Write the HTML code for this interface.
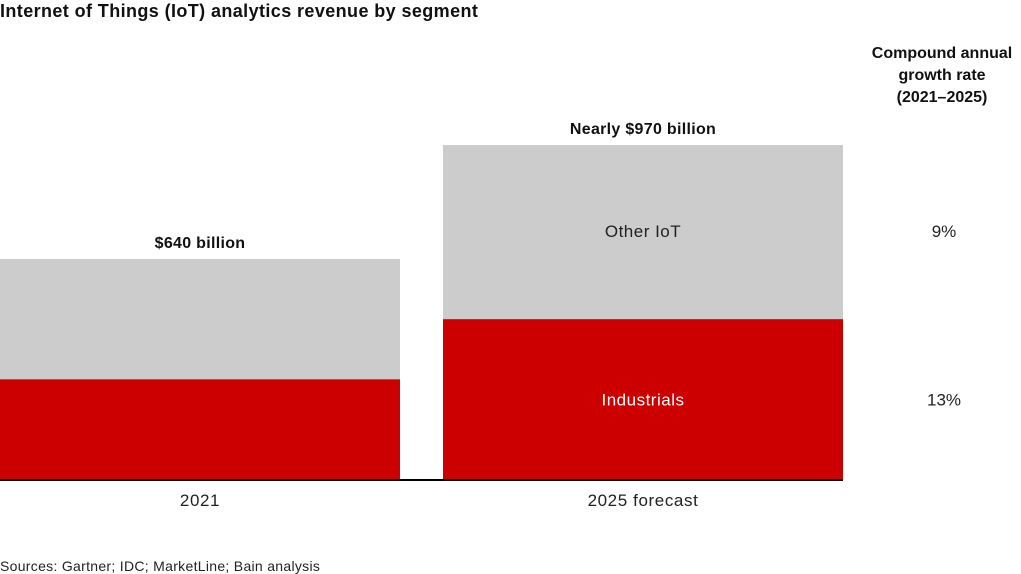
<!DOCTYPE html>
<html><head><meta charset="utf-8"><style>
html,body{margin:0;padding:0;background:#fff;width:1021px;height:574px;overflow:hidden;font-family:"Liberation Sans",sans-serif}
svg text{font-family:"Liberation Sans",sans-serif}
</style></head><body>
<svg id="chart" width="1021" height="574">
<text x="0" y="17" font-size="18" font-weight="bold" letter-spacing="0.4" fill="#111">Internet of Things (IoT) analytics revenue by segment</text>
<g font-size="16" font-weight="bold" fill="#111" text-anchor="middle">
<text x="942" y="58">Compound annual</text>
<text x="942" y="80">growth rate</text>
<text x="942" y="102">(2021–2025)</text>
</g>
<g id="bars"></g>
<line x1="0" y1="480" x2="843" y2="480" stroke="#000" stroke-width="2"/>
<text x="0" y="571" font-size="14" letter-spacing="0.3" fill="#222">Sources: Gartner; IDC; MarketLine; Bain analysis</text>
</svg>
<script>
const categories = ["2021", "2025 forecast"];
const totalLabels = ["$640 billion", "Nearly $970 billion"];
const industrials = [292, 466];
const otherIoT = [348, 504];
const segmentNames = ["Industrials", "Other IoT"];
const cagrLabels = ["13%", "9%"];

const NS = "http://www.w3.org/2000/svg";
const g = document.getElementById("bars");
const baseY = 480, scale = 221 / 640;
const xPos = i => i * 443;
const barW = 400;
const yScale = v => baseY - v * scale;
function mk(tag, attrs, txt) {
  const e = document.createElementNS(NS, tag);
  for (const k in attrs) e.setAttribute(k, attrs[k]);
  if (txt !== undefined) e.textContent = txt;
  g.appendChild(e);
  return e;
}
categories.forEach((c, i) => {
  const x = xPos(i);
  const yRed = yScale(industrials[i]);
  const yTop = yScale(industrials[i] + otherIoT[i]);
  const r = mk("rect", {x: x, y: yRed, width: barW, height: baseY - yRed, fill: "#cc0000"});
  
  
  const o = mk("rect", {x: x, y: yTop, width: barW, height: yRed - yTop, fill: "#cccccc"});
  
  
  const t = mk("text", {x: x + barW / 2, y: yTop - 11, "font-size": 16, "font-weight": "bold", "letter-spacing": 0.3, "text-anchor": "middle", fill: "#111"}, totalLabels[i]);
  
  
  const cl = mk("text", {x: x + barW / 2, y: 506, "font-size": 17, "letter-spacing": 0.6, "text-anchor": "middle", fill: "#222"}, c);
  
  
  if (i === categories.length - 1) {
    const s1 = mk("text", {x: x + barW / 2, y: (yRed + baseY) / 2 + 6, "font-size": 17, "letter-spacing": 0.5, "text-anchor": "middle", fill: "#fff"}, segmentNames[0]);
    
    
    const s2 = mk("text", {x: x + barW / 2, y: (yTop + yRed) / 2 + 5, "font-size": 17, "letter-spacing": 0.5, "text-anchor": "middle", fill: "#222"}, segmentNames[1]);
    
    
    const c1 = mk("text", {x: 944, y: (yRed + baseY) / 2 + 6, "font-size": 17, "text-anchor": "middle", fill: "#222"}, cagrLabels[0]);
    
    
    const c2 = mk("text", {x: 944, y: (yTop + yRed) / 2 + 5, "font-size": 17, "text-anchor": "middle", fill: "#222"}, cagrLabels[1]);
    
    
  }
});
</script>
</body></html>
